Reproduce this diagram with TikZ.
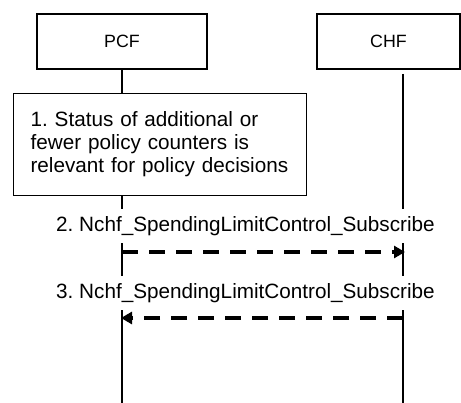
\documentclass[tikz,border=0pt]{standalone}
\usepackage{fontspec}
\setmainfont{Liberation Sans}
\usetikzlibrary{arrows.meta,positioning}
\frenchspacing

\begin{document}
\begin{tikzpicture}[x=1pt,y=-1pt,>={Triangle[length=11pt,width=12pt]},
 nf/.style={draw,line width=1.1pt,minimum height=55pt,inner sep=0pt,font=\fontsize{17.8}{20}\selectfont},
 note/.style={draw,line width=1.1pt,align=left,inner xsep=17.3pt,inner ysep=0pt,font=\fontsize{20.7}{23}\selectfont},
 msg/.style={fill=white,inner xsep=0pt,inner ysep=7pt,font=\fontsize{20.7}{23}\selectfont},
 life/.style={line width=1.1pt},
 call/.style={line width=3.2pt,dash pattern=on 16pt off 11pt}]
\useasboundingbox (0,0) rectangle (461,403);
\node[nf,minimum width=170pt] (pcf) at (122,41.5) {PCF};
\node[nf,minimum width=143pt] (chf) at (388.5,41.5) {CHF};
\node[note,minimum width=293.3pt,minimum height=102pt,text width=258.7pt,anchor=north west] (status) at (12.7,93)
 {1. Status of additional or\\fewer policy counters is\\relevant for policy decisions};
% lifelines
\coordinate (pcfend) at (122,403);
\coordinate (chftop) at (403,74);
\coordinate (chfend) at (403,403);
\draw[life] (pcf.south) -- (pcf.south |- status.north);
\draw[life] (pcf.south |- status.south) -- (pcfend);
\draw[life] (chftop) -- (chfend);
% messages
\node[msg] (sub) at (245.5,226) {2. Nchf\_SpendingLimitControl\_Subscribe};
\node[msg] (subresp) at (245.5,293) {3. Nchf\_SpendingLimitControl\_Subscribe};
\coordinate (req from) at (122,252);
\coordinate (req to) at (405,252);
\coordinate (resp from) at (403,318);
\coordinate (resp to) at (121,318);
\draw[call,->] (req from) -- (req to);
\draw[call,->] (resp from) -- (resp to);
\end{tikzpicture}
\end{document}
